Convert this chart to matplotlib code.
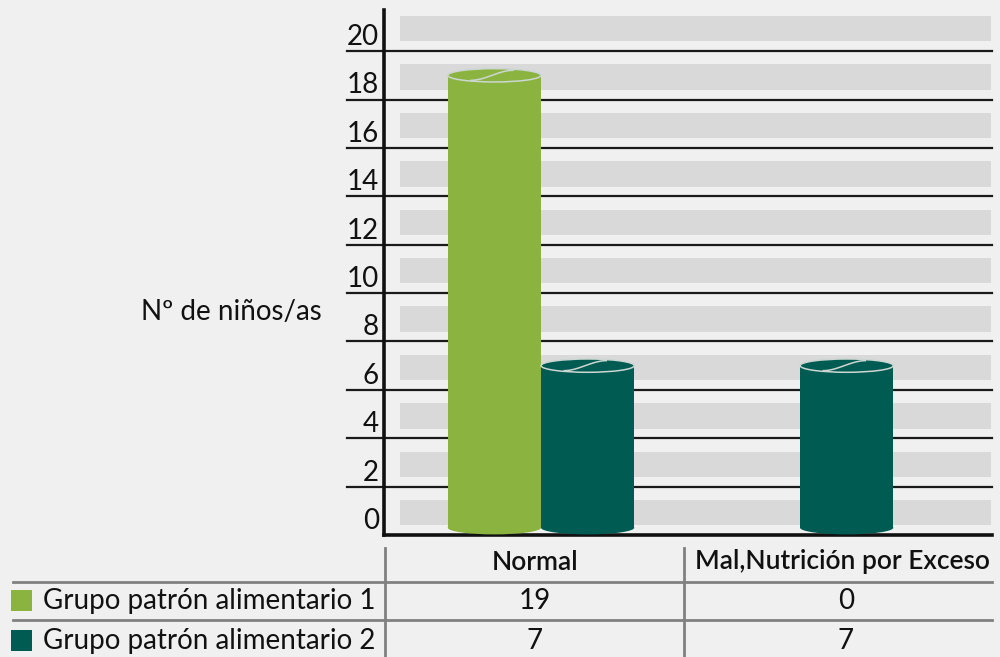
import numpy as np
import matplotlib
matplotlib.use("Agg")
import matplotlib.pyplot as plt
import matplotlib.patches as patches
import matplotlib.transforms as mtrans
from matplotlib.lines import Line2D

plt.rcParams['font.family'] = ['Lato', 'DejaVu Sans']

# ------------------------
# Data
# ------------------------
categories = ["Normal", "Mal,Nutrición por Exceso"]
series_names = ["Grupo patrón alimentario 1", "Grupo patrón alimentario 2"]
grupo1 = [19, 0]
grupo2 = [7, 7]
y_ticks = [0, 2, 4, 6, 8, 10, 12, 14, 16, 18, 20]
y_label = "Nº de niños/as"

colors = ["#8ab43f", "#005c52"]
BG = "#eff0ef"
BAND = "#d9d9d9"
FS = 20

W, H = 1000, 657


def fx(px):
    return px / W


def fy(py):
    return 1 - py / H


fig = plt.figure(figsize=(10, 6.57), dpi=100)
fig.patch.set_facecolor(BG)

ax = fig.add_axes([fx(384), fy(535), fx(992) - fx(384), fy(10) - fy(535)])
ax.set_facecolor("none")
ax.set_xlim(-0.606, 1.741)
ax.set_ylim(0, 21.7)

# background bands + gridlines
for v in y_ticks:
    ax.axhspan(v + 0.4, v + 1.45, xmin=0.026, xmax=0.998, color=BAND, lw=0, zorder=1)
    if v > 0:
        ax.axhline(v, xmin=-37 / 608, xmax=1, color="#1a1a1a", lw=1.6,
                   clip_on=False, zorder=2)

# y tick labels sitting just above their gridline
trans = mtrans.blended_transform_factory(ax.transAxes, ax.transData)
for v in y_ticks:
    ax.text(-5 / 608, v + 0.25, str(v), transform=trans, ha="right",
            va="baseline", fontsize=FS, color="#111111")

ax.set_xticks([])
ax.set_yticks([])
for s in ["top", "right"]:
    ax.spines[s].set_visible(False)
for s in ["left", "bottom"]:
    ax.spines[s].set_linewidth(2.6)
    ax.spines[s].set_color("#111111")


# ------------------------
# Cylinders
# ------------------------
def cylinder(ax, x, top, width, color, base=0.3, eh=0.55):
    if top <= 0:
        return
    ax.bar(x, top - base, width, bottom=base, color=color, lw=0, zorder=3)
    ax.add_patch(patches.Ellipse((x, base), width, eh, facecolor=color,
                                 edgecolor="none", zorder=3))
    ax.add_patch(patches.Ellipse((x, top), width, eh, facecolor=color,
                                 edgecolor="#cdd6d2", lw=1.1, zorder=4))
    t = np.linspace(0, 1, 40)
    s = 3 * t ** 2 - 2 * t ** 3
    xs = x + width * (-0.25 + 0.45 * t)
    ys = top + (eh / 2) * (-0.75 + 1.5 * s)
    ax.plot(xs, ys, color="#cdd6d2", lw=1.1, zorder=5)


bw = 0.36
xpos = np.arange(len(categories))
for i, x in enumerate(xpos):
    cylinder(ax, x - bw / 2, grupo1[i], bw, colors[0])
    cylinder(ax, x + bw / 2, grupo2[i], bw, colors[1])

# y axis title
fig.text(fx(231), fy(312), y_label, ha="center", va="center", fontsize=FS,
         color="#111111")

# ------------------------
# Data table under the chart
# ------------------------
line_kw = dict(color="#808080", lw=2)
for py in [582, 620]:
    fig.add_artist(Line2D([fx(13), fx(992)], [fy(py), fy(py)], **line_kw))
for px in [385, 684]:
    fig.add_artist(Line2D([fx(px), fx(px)], [fy(548), fy(657)], **line_kw))

col_x = [535, 846]
head_x = [535, 842]
for cx, cat in zip(head_x, categories):
    fig.text(fx(cx), fy(562), cat, ha="center", va="center", fontsize=19,
             fontweight="semibold", color="#111111")

row_y = [601, 641]
for ry, name, vals, c in zip(row_y, series_names, [grupo1, grupo2], colors):
    fig.add_artist(patches.Rectangle((fx(11), fy(ry + 10)), fx(21), 21 / H,
                                     facecolor=c, edgecolor="none",
                                     transform=fig.transFigure))
    fig.text(fx(43), fy(ry), name, ha="left", va="center", fontsize=FS,
             color="#111111")
    for cx, v in zip(col_x, vals):
        fig.text(fx(cx), fy(ry), str(v), ha="center", va="center",
                 fontsize=FS, color="#111111")

fig.savefig("out.png", dpi=100, facecolor=BG)
